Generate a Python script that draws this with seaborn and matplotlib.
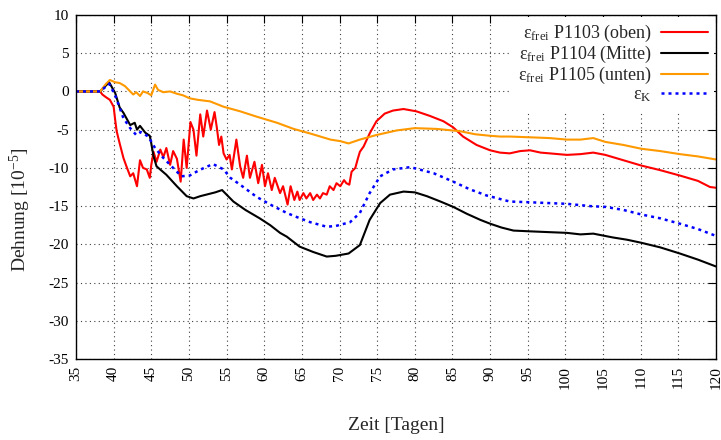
import matplotlib
matplotlib.use("Agg")
import matplotlib.pyplot as plt
import seaborn as sns
import pandas as pd

# --- measured strain series (days, strain in 1e-5) ---
p1103_days = [35, 38.2, 38.5, 38.9, 39.5, 40.0, 40.2, 40.4, 40.8, 41.3, 41.7, 42.2, 42.6, 43.1,
              43.5, 43.9, 44.4, 44.8, 45.0, 45.3, 45.7, 46.2, 46.6, 47.0, 47.5, 47.9, 48.4,
              48.9, 49.3, 49.7, 50.2, 50.6, 51.0, 51.5, 51.9, 52.4, 52.9, 53.4, 53.7, 54.0,
              54.3, 54.6, 55.0, 55.4, 55.7, 56.3, 56.8, 57.2, 57.7, 58.1, 58.7, 59.2, 59.7,
              60.1, 60.5, 61.0, 61.4, 62.1, 62.5, 63.1, 63.5, 64.0, 64.4, 64.7, 65.2, 65.6,
              66.1, 66.5, 67.0, 67.4, 67.8, 68.3, 68.7, 69.2, 69.6, 70.1, 70.6, 70.9, 71.3,
              71.6, 72.1, 72.4, 72.7, 73.2, 74.0, 74.9, 76.0, 77.1, 78.5, 80.2, 82.0, 83.8,
              85.1, 86.4, 88.2, 90.0, 91.3, 92.6, 94.0, 95.3, 96.7, 97.9, 100.2, 102.0,
              103.7, 105.3, 107.7, 110.1, 112.6, 115.2, 117.6, 119.2, 120]
p1103_vals = [0, 0, -0.4, -0.7, -1.1, -2.0, -3.7, -5.2, -6.8, -8.7, -9.8, -11.1, -10.7, -12.4,
              -9.0, -10.0, -10.2, -11.3, -9.6, -7.9, -9.2, -7.6, -8.6, -7.4, -9.6, -7.8, -8.8,
              -11.8, -6.3, -10.0, -4.0, -5.0, -8.4, -3.0, -5.9, -2.5, -5.0, -2.7, -4.7, -7.0,
              -5.9, -8.1, -8.9, -8.3, -10.2, -6.3, -9.8, -11.3, -8.4, -11.3, -9.2, -12.0, -9.6,
              -12.4, -10.7, -12.9, -11.3, -13.3, -12.4, -14.8, -12.4, -14.2, -13.1, -14.2, -13.3, -14.0,
              -13.3, -14.2, -13.5, -14.0, -13.3, -13.5, -12.4, -12.9, -12.0, -12.4, -11.6, -12.0, -12.2,
              -10.5, -10.0, -8.9, -7.9, -7.2, -5.5, -3.9, -2.9, -2.5, -2.3, -2.6, -3.2, -3.9,
              -4.7, -5.9, -7.0, -7.7, -8.0, -8.1, -7.8, -7.7, -8.0, -8.1, -8.3, -8.2,
              -8.0, -8.3, -9.0, -9.7, -10.3, -11.0, -11.7, -12.5, -12.6]

p1104_days = [35, 38.2, 39.4, 40.2, 40.8, 41.3, 42.2, 42.8, 43.1, 43.5, 44.2, 44.8, 45.0,
              45.3, 45.7, 47.0, 48.4, 49.7, 50.6, 51.5, 52.3, 53.5, 54.4, 55.9, 57.5, 59.4,
              60.8, 62.1, 63.0, 64.7, 66.5, 68.3, 69.5, 71.2, 72.7, 74.0, 75.4, 76.7, 78.5,
              80.0, 81.6, 83.4, 85.1, 86.9, 88.7, 90.0, 91.5, 93.1, 95.3, 97.7, 100.2, 102.0,
              103.7, 106.3, 108.2, 110.1, 112.6, 115.2, 117.6, 120]
p1104_vals = [0, 0, 1.2, -0.2, -2.1, -2.8, -4.4, -4.1, -5.0, -4.5, -5.4, -5.8, -6.8,
              -8.5, -9.8, -10.9, -12.4, -13.7, -14.0, -13.7, -13.5, -13.2, -12.9, -14.4, -15.5, -16.6,
              -17.5, -18.5, -19.0, -20.3, -21.0, -21.6, -21.5, -21.2, -20.1, -16.8, -14.6, -13.5, -13.1,
              -13.2, -13.7, -14.4, -15.1, -16.0, -16.8, -17.3, -17.8, -18.2, -18.3, -18.4, -18.5, -18.7,
              -18.6, -19.1, -19.4, -19.8, -20.4, -21.2, -22.0, -22.9]

p1105_days = [35, 38.2, 38.9, 39.5, 40.2, 40.8, 41.5, 42.2, 42.6, 43.0, 43.5, 43.9, 44.5,
              45.0, 45.5, 45.9, 46.6, 47.5, 48.4, 49.2, 50.1, 51.2, 52.8, 54.6, 56.8, 59.0,
              61.7, 63.9, 66.1, 68.8, 70.1, 71.2, 72.7, 74.9, 77.6, 80.0, 82.9, 86.0, 88.0,
              90.0, 91.3, 92.6, 95.3, 97.9, 100.2, 102.0, 103.7, 105.3, 107.7, 110.1, 112.6,
              115.2, 117.6, 120]
p1105_vals = [0, 0, 0.9, 1.5, 1.2, 1.1, 0.7, 0.0, -0.4, -0.1, -0.6, 0.0, -0.2,
              -0.5, 0.9, 0.2, -0.1, 0.0, -0.3, -0.5, -0.9, -1.1, -1.3, -2.0, -2.6, -3.3,
              -4.1, -4.9, -5.5, -6.3, -6.5, -6.8, -6.3, -5.7, -5.1, -4.8, -4.9, -5.2, -5.6,
              -5.8, -5.9, -5.9, -6.0, -6.1, -6.3, -6.3, -6.1, -6.6, -7.0, -7.5, -7.8,
              -8.2, -8.5, -8.9]

epsk_days = [35, 38.2, 39.4, 40.2, 41.3, 42.2, 43.0, 43.6, 44.6, 45.5, 46.6, 47.9, 49.0,
             50.1, 51.0, 52.0, 53.2, 54.6, 55.5, 56.8, 59.0, 61.0, 63.0, 64.5, 66.1, 68.3,
             69.5, 71.4, 72.7, 74.0, 75.4, 77.1, 79.4, 82.5, 85.1, 87.3, 89.5, 92.6, 95.3,
             97.7, 100.2, 103.3, 105.3, 107.7, 110.1, 112.6, 115.2, 117.6, 120]
epsk_vals = [0, 0, 1.0, -0.5, -3.5, -4.8, -5.7, -5.3, -5.9, -7.4, -8.7, -10.0, -11.1,
             -11.0, -10.5, -10.0, -9.5, -10.2, -11.3, -12.2, -13.8, -14.9, -15.9, -16.5, -17.1, -17.7,
             -17.6, -17.1, -15.9, -13.3, -11.1, -10.2, -9.9, -10.7, -11.8, -12.8, -13.6, -14.4, -14.5,
             -14.6, -14.7, -15.0, -15.1, -15.5, -16.1, -16.6, -17.3, -18.0, -18.9]

labels = ["ε$_{\\mathrm{frei}}$ P1103 (oben)",
          "ε$_{\\mathrm{frei}}$ P1104 (Mitte)",
          "ε$_{\\mathrm{frei}}$ P1105 (unten)",
          "ε$_{\\mathrm{K}}$"]

x_ticks = list(range(35, 121, 5))
y_ticks = list(range(-35, 11, 5))

sns.set_style("white")
plt.rcParams["font.family"] = ["Liberation Serif", "DejaVu Serif"]
plt.rcParams["mathtext.fontset"] = "custom"
plt.rcParams["mathtext.rm"] = "Liberation Serif"
plt.rcParams["mathtext.it"] = "Liberation Serif:italic"
plt.rcParams["axes.unicode_minus"] = False

fig = plt.figure(figsize=(7.21, 4.40), dpi=100)
ax = fig.add_axes([76 / 721, 1 - 359 / 440, 640 / 721, 344 / 440])

series = [
    (p1103_days, p1103_vals, "#ff0000", "-"),
    (p1104_days, p1104_vals, "#000000", "-"),
    (p1105_days, p1105_vals, "#ff9900", "-"),
    (epsk_days, epsk_vals, "#0000ff", ":"),
]
for (d, v, c, ls), lab in zip(series, labels):
    df = pd.DataFrame({"Zeit": d, "Dehnung": v})
    line_kw = dict(lw=1.5)
    if ls == ":":
        line_kw = dict(lw=1.8, dashes=(1.2, 1.6))
    sns.lineplot(data=df, x="Zeit", y="Dehnung", ax=ax, color=c, label=lab,
                 estimator=None, sort=False, **line_kw)

ax.set_xlim(35, 120)
ax.set_ylim(-35, 10)
ax.set_xticks(x_ticks)
ax.set_yticks(y_ticks)
ax.set_xticklabels([str(t) for t in x_ticks], rotation=90)
ax.tick_params(axis="both", which="major", direction="in", length=6, width=0.8,
               top=True, right=True, labelsize=11, colors="black", pad=5)
ax.grid(True, color="0.25", linestyle=(0, (1, 3)), linewidth=0.8)
for s in ax.spines.values():
    s.set_color("black")
    s.set_linewidth(1.0)

ax.set_xlabel("Zeit [Tagen]", fontsize=14)
ax.xaxis.set_label_coords(0.5, -0.17)
ax.set_ylabel("Dehnung [10$^{-5}$]", fontsize=14)
ax.yaxis.set_label_coords(-0.067, 0.435)

leg = ax.legend(loc="upper right", bbox_to_anchor=(1.0, 1.0), markerfirst=False,
                frameon=True, fancybox=False, framealpha=1.0, edgecolor="none",
                facecolor="white", fontsize=13, handlelength=2.6, handletextpad=0.5,
                borderpad=0.35, borderaxespad=0.1, labelspacing=0.0)
for t in leg.get_texts():
    t.set_ha("right")

fig.savefig("out.png", dpi=100)
